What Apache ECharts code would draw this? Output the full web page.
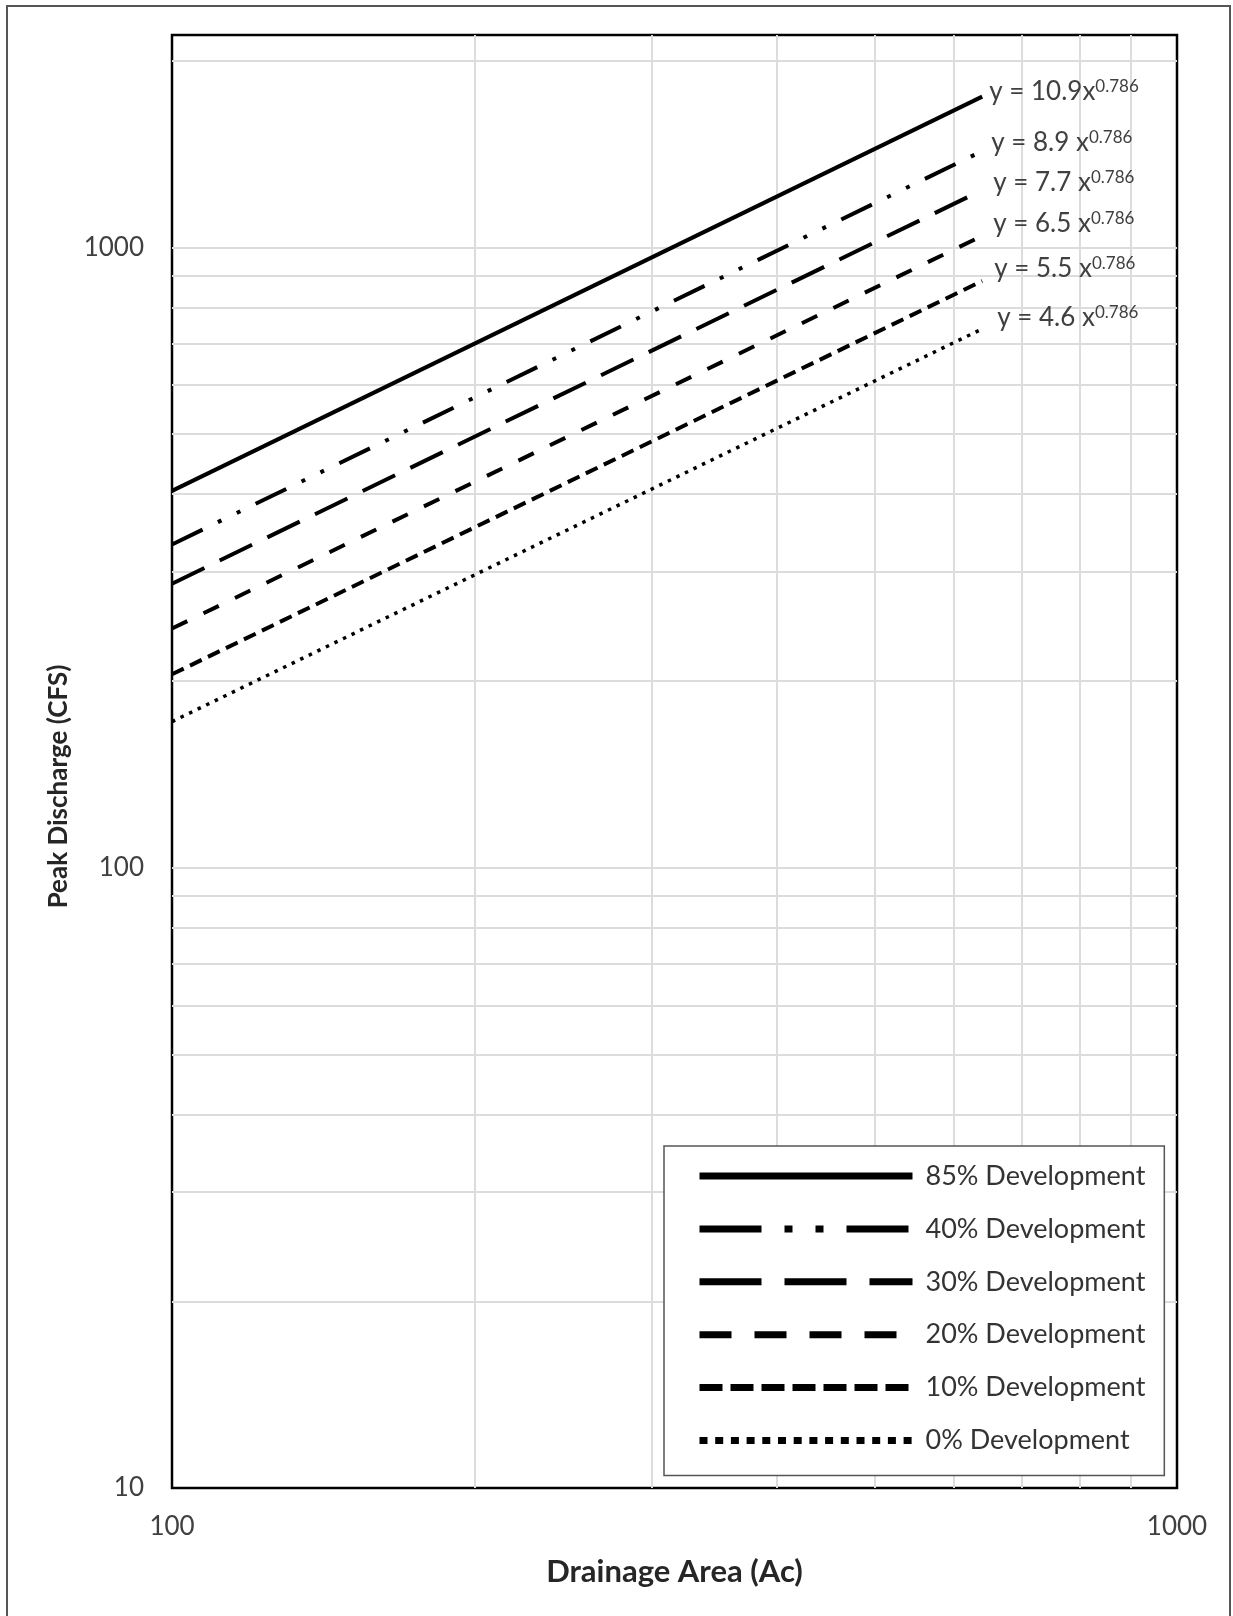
<!DOCTYPE html>
<html>
<head>
<meta charset="utf-8">
<script src="https://cdn.jsdelivr.net/npm/echarts@6/dist/echarts.min.js"></script>
<style>
  html, body { margin: 0; padding: 0; background: #fff; }
  #chart { width: 1233px; height: 1616px; }
</style>
</head>
<body>
<div id="chart"></div>
<script>
// drainage area (Ac) at both ends of every curve
const areaRange = [100, 640];

// peak discharge (CFS) read at the two ends of each curve
const peak85 = [405, 1750];
const peak40 = [332, 1430];
const peak30 = [287, 1237];
const peak20 = [243, 1044];
const peak10 = [205, 883];
const peak0 = [172, 739];

const seriesNames = ['85% Development', '40% Development', '30% Development',
  '20% Development', '10% Development', '0% Development'];
const equations = ['y = 10.9x', 'y = 8.9 x', 'y = 7.7 x', 'y = 6.5 x', 'y = 5.5 x', 'y = 4.6 x'];
const exponent = '0.786';

// axis labels and log grid lines
const xTickLabels = [100, 1000];
const yTickLabels = [10, 100, 1000];
const xGrid = [200, 300, 400, 500, 600, 700, 800, 900];
const yGrid = [20, 30, 40, 50, 60, 70, 80, 90, 100, 200, 300, 400, 500, 600, 700, 800, 900, 1000, 2000];

const FONT = 'Lato';
const peaks = [peak85, peak40, peak30, peak20, peak10, peak0];

// line look in the plot and in the legend, plus where each equation sits
const looks = [
  { width: 4, dash: 'solid', legendDash: 'solid', offset: [-1, -5] },
  { width: 4, dash: [34, 17, 4, 17, 4, 17], legendDash: [62, 23, 8, 23, 8, 23], offset: [1, -8] },
  { width: 4, dash: [36, 17], legendDash: [62, 23], offset: [3, -7] },
  { width: 4, dash: [17, 18], legendDash: [32, 23], offset: [3, -12] },
  { width: 4, dash: [13, 7], legendDash: [23, 8], offset: [4, -12] },
  { width: 3.5, dash: [3.5, 6], legendDash: [8, 7.7], offset: [7, -11] }
];

const chart = echarts.init(document.getElementById('chart'), null, { renderer: 'canvas' });

const curveSeries = seriesNames.map(function (name, i) {
  return {
    name: name,
    type: 'line',
    data: areaRange.map(function (a, k) { return [a, peaks[i][k]]; }),
    symbol: 'none',
    z: 3,
    itemStyle: { color: '#000' },
    lineStyle: { color: '#000', width: looks[i].width, type: looks[i].dash },
    endLabel: {
      show: true,
      offset: looks[i].offset,
      formatter: '{m|' + equations[i] + '}{s|' + exponent + '}',
      rich: {
        m: { fontFamily: FONT, fontSize: 26, color: '#404040', lineHeight: 28 },
        s: { fontFamily: FONT, fontSize: 17, color: '#404040', verticalAlign: 'top', lineHeight: 17 }
      }
    }
  };
});

// helper series that only carries the log grid lines
const gridSeries = {
  name: 'grid',
  type: 'line',
  data: [],
  silent: true,
  markLine: {
    z: 1,
    silent: true,
    symbol: ['none', 'none'],
    label: { show: false },
    lineStyle: { color: '#dcdcdc', width: 2, type: 'solid' },
    data: yGrid.map(function (v) { return { yAxis: v }; })
      .concat(xGrid.map(function (v) { return { xAxis: v }; }))
  }
};

const option = {
  animation: false,
  backgroundColor: '#fff',
  textStyle: { fontFamily: FONT },
  grid: {
    left: 172, top: 35, right: 1233 - 1177, bottom: 1616 - 1488,
    show: true, borderColor: '#000', borderWidth: 2.5
  },
  xAxis: {
    type: 'log',
    min: 100, max: 1000, interval: 1,
    name: 'Drainage Area (Ac)',
    nameLocation: 'middle',
    nameGap: 68,
    nameTextStyle: { fontFamily: FONT, fontSize: 31, fontWeight: 'bold', color: '#262626' },
    axisLine: { show: false },
    axisTick: { show: false },
    splitLine: { show: false },
    axisLabel: {
      margin: 26, fontFamily: FONT, fontSize: 26, color: '#404040',
      formatter: function (v) { return xTickLabels.indexOf(Math.round(v)) >= 0 ? String(Math.round(v)) : ''; }
    }
  },
  yAxis: {
    type: 'log',
    min: 10, max: 2200, interval: 1,
    name: 'Peak Discharge (CFS)',
    nameLocation: 'middle',
    nameGap: 100,
    nameTextStyle: { fontFamily: FONT, fontSize: 26, fontWeight: 'bold', color: '#262626', padding: [0, 50, 0, 0] },
    axisLine: { show: false },
    axisTick: { show: false },
    splitLine: { show: false },
    axisLabel: {
      margin: 28, fontFamily: FONT, fontSize: 26, color: '#404040',
      formatter: function (v) { return yTickLabels.indexOf(Math.round(v)) >= 0 ? String(Math.round(v)) : ''; }
    }
  },
  legend: {
    orient: 'vertical',
    left: 664, top: 1146,
    padding: [16, 19, 21, 32],
    itemWidth: 213, itemHeight: 14, itemGap: 24.9,
    backgroundColor: '#fff',
    borderColor: '#555', borderWidth: 1.5,
    selectedMode: false,
    itemStyle: { opacity: 0, borderWidth: 0 },
    textStyle: { fontFamily: FONT, fontSize: 27, color: '#333', lineHeight: 28, padding: [0, 0, 0, 8] },
    data: seriesNames.map(function (name, i) {
      return {
        name: name,
        itemStyle: { opacity: 0, borderWidth: 0 },
        lineStyle: { color: '#000', width: 7, type: looks[i].legendDash }
      };
    })
  },
  graphic: [{
    type: 'rect',
    silent: true,
    shape: { x: 7, y: 6, width: 1223, height: 1640 },
    style: { fill: null, stroke: '#555', lineWidth: 2 }
  }],
  series: [gridSeries].concat(curveSeries)
};

chart.setOption(option);
</script>
</body>
</html>
